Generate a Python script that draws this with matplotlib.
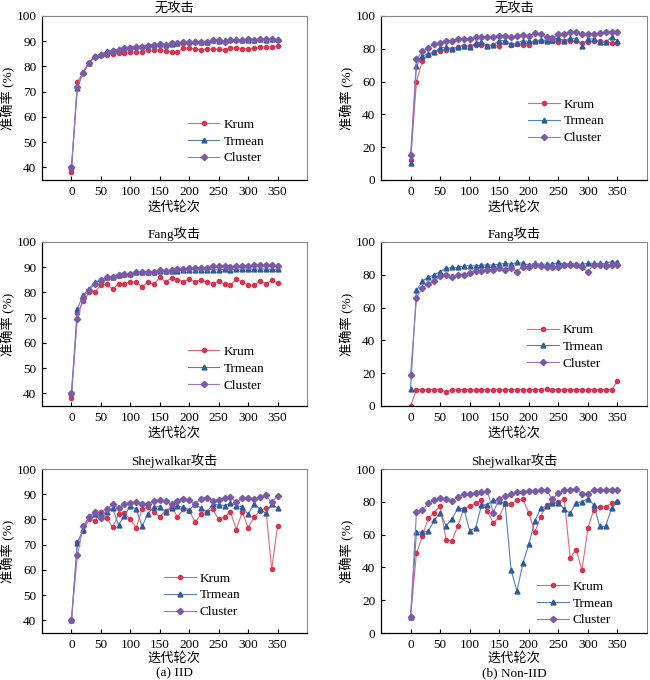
import matplotlib
matplotlib.use("Agg")
import matplotlib.pyplot as plt
import numpy as np

plt.rcParams['font.family'] = ['Liberation Serif', 'Noto Sans CJK SC']
plt.rcParams['font.size'] = 9

rounds = np.arange(0, 360, 10)

# IID, no attack
iid_none_krum = [38, 74, 77.5, 81.5, 84, 84.5, 84.5, 85, 85.3, 85.5, 85.8, 85.6, 85.8, 86.5, 86.4, 86.5, 86, 85.8,
                 85.8, 87.2, 87.2, 87, 86.5, 87, 86.8, 86.8, 86.5, 87.3, 87.5, 87, 87, 87.2, 87.8, 87.8, 87.8, 88.2]
iid_none_trmean = [40, 71.5, 78, 81.5, 84, 84.8, 86, 86.5, 86.8, 87.5, 87.8, 88, 88.3, 88.5, 88.7, 89, 88.7, 89,
                   89.3, 89.5, 89.8, 90, 89.7, 89.8, 90.3, 90.2, 90.3, 90.8, 90.7, 90.5, 90.5, 90.3, 90.7, 90.6, 90.8, 90.8]
iid_none_cluster = [40, 72, 77.5, 81.5, 83.8, 84.5, 85.5, 86.3, 86.7, 87.3, 87.3, 87.8, 87.8, 88.3, 88.5, 88.8, 88.5, 89.2,
                    89.3, 89.5, 89.7, 89.7, 89.8, 89.8, 90.3, 90.3, 89.5, 90.5, 90.5, 90.5, 90.7, 90.5, 90.8, 90.7, 90.7, 90.3]

# Non-IID, no attack
niid_none_krum = [12, 60, 72.5, 76.5, 78, 78.5, 79.5, 80, 81, 82, 81.5, 82.5, 82.5, 81.5, 82.5, 81.5, 84, 82.5,
                  83, 82.5, 82.5, 84.5, 84.5, 84.5, 85, 84, 84.5, 85, 84.5, 83.5, 84, 85, 84.5, 84, 83.5, 83.8]
niid_none_trmean = [10.5, 69.5, 75.5, 77, 78, 80.5, 81, 80, 81, 82, 81, 83.5, 84, 82, 82.5, 85, 85, 83,
                    83.5, 85, 84.5, 84.5, 85.5, 85, 85.5, 86.5, 85, 86.5, 86, 82, 86, 86, 84, 84, 87, 85]
niid_none_cluster = [15, 73.5, 78.5, 80.5, 83, 83.5, 84.5, 85, 86, 86, 86, 87, 87, 87.5, 87, 88, 88, 87,
                     88, 88.5, 88, 89.5, 89, 87, 86.5, 89, 89, 90, 90, 89, 89, 89, 89.5, 90, 90.5, 90]

# IID, Fang attack
iid_fang_krum = [38, 71.7, 76.5, 80, 80.2, 83, 83.3, 81.2, 83.5, 83.5, 84.2, 84, 82.3, 84.2, 83.2, 86, 84.2, 85.8,
                 85, 84.3, 85.2, 84.3, 85, 84, 83.5, 84.5, 83.3, 83, 85.2, 84.3, 82.8, 83, 84.5, 83.5, 84.8, 83.8]
iid_fang_trmean = [40, 73.5, 79, 81.5, 84, 85, 86, 86.3, 86.8, 87.3, 87.3, 88, 88, 88.3, 88.3, 88.5, 88.5, 88.7,
                   88.7, 88.8, 89, 89, 88.8, 89, 89, 89, 89.2, 89, 89.2, 89.3, 89.3, 89.3, 89.3, 89.3, 89.2, 89.3]
iid_fang_cluster = [40, 69.5, 78, 81, 83.5, 85, 86, 86.3, 87, 87.3, 87.5, 88, 88.3, 88.3, 88.2, 88.8, 88.7, 88.8,
                    89.2, 89.3, 89.5, 89.7, 89.8, 89.8, 90.3, 90.3, 90.5, 90.2, 90.5, 90.3, 90.5, 90.8, 90.8, 90.7, 90.8, 90.3]

# Non-IID, Fang attack
niid_fang_krum = [0, 10, 10, 10, 10, 10, 8.5, 10, 10, 10, 10, 10, 10, 10, 10, 10, 10, 10,
                  10, 10, 10, 10, 10, 10.5, 10, 10, 10, 10, 10, 10, 10, 10, 10, 10, 10, 15]
niid_fang_trmean = [10.5, 70.5, 76, 78.5, 80, 82, 84, 84.5, 84.5, 85.5, 85.5, 85.5, 86, 86, 86, 86.5, 87, 86.5,
                    87.5, 87, 86, 87, 86.5, 86.5, 86.5, 87.5, 86.5, 87, 86.5, 86.5, 87, 87, 87, 87, 88, 87.5]
niid_fang_cluster = [19, 66, 72, 74.5, 76, 79, 80, 78.5, 80, 80, 81, 82.5, 82.5, 83, 83, 84, 83, 84,
                     82, 85, 84.5, 86, 85.5, 85, 85, 85, 86, 86, 86, 84.5, 82, 86, 86, 85.5, 86, 86]

# IID, Shejwalkar attack
iid_shej_krum = [40, 71, 75.5, 80, 79.5, 83, 80.5, 77, 82, 82.5, 80, 76.8, 84, 85, 83, 81, 83.5, 85,
                 81, 84, 83.5, 79, 82, 83, 84, 80, 81, 83, 76, 83, 76.8, 80.8, 83.5, 84.5, 60.2, 77.5]
iid_shej_trmean = [40, 70.8, 76, 81.5, 82, 82, 83, 84.5, 77.8, 81.5, 85.5, 84, 77.3, 82.3, 85, 85, 83, 84.5,
                   85.3, 84.8, 83.8, 86, 84.5, 83, 86, 85.8, 85.5, 86.5, 85.5, 85, 82, 86.3, 84, 82.5, 86, 84.5]
iid_shej_cluster = [40, 65.8, 77.3, 81, 83, 80.5, 84, 86, 84.5, 86, 86.5, 86.8, 86, 86.3, 87.3, 87.8, 87.3, 86,
                    87.3, 88.2, 87.8, 86, 88.3, 88.7, 87.5, 87.8, 88.5, 88.8, 86.8, 88.5, 88.7, 88, 88.8, 89.5, 86.8, 89.2]

# Non-IID, Shejwalkar attack
niid_shej_krum = [10, 48.7, 59, 70, 73.4, 77.5, 56.9, 56, 65.4, 75.7, 77.3, 79.3, 80.8, 74.2, 67, 70.8, 79, 78.5,
                  80.9, 81.5, 73.4, 61.3, 70.9, 78.3, 79.3, 80, 81.5, 45.8, 50.9, 38.4, 64, 75.3, 76.7, 77.1, 79, 80]
niid_shej_trmean = [10, 61.5, 61.5, 62, 68.7, 73.4, 65.4, 69.5, 76, 75.9, 62.4, 64, 78, 78.3, 81, 80.2, 79, 38.4,
                    25.6, 42.5, 54, 68, 76, 77.5, 79, 79.5, 75.5, 73, 79.5, 80, 82, 78, 65, 65, 76, 80.5]
niid_shej_cluster = [10, 73.8, 75, 79, 81, 82.4, 82, 80.4, 83, 84.9, 84.7, 85.3, 85.9, 86.5, 73.4, 82, 83.6, 84.5,
                     86, 86, 86.5, 86.5, 87, 87, 81.5, 85.5, 87, 87.5, 88, 84.5, 85, 87.5, 87.5, 87, 87.5, 87.5]

titles = ['无攻击', '无攻击', 'Fang攻击', 'Fang攻击', 'Shejwalkar攻击', 'Shejwalkar攻击']
panels = [
    (iid_none_krum, iid_none_trmean, iid_none_cluster),
    (niid_none_krum, niid_none_trmean, niid_none_cluster),
    (iid_fang_krum, iid_fang_trmean, iid_fang_cluster),
    (niid_fang_krum, niid_fang_trmean, niid_fang_cluster),
    (iid_shej_krum, iid_shej_trmean, iid_shej_cluster),
    (niid_shej_krum, niid_shej_trmean, niid_shej_cluster),
]
legend_pos = [(0.55, 0.095), (0.553, 0.218), (0.55, 0.088), (0.55, 0.22), (0.46, 0.09), (0.587, 0.04)]

W, H = 650, 680
fig = plt.figure(figsize=(6.5, 6.8), dpi=100)

col_left = [42, 381]
col_w = [265, 266]
row_top = [16, 242, 469]
row_h = 164

# line colour is a lighter tint of the marker colour
styles = [
    dict(label='Krum', line='#e6677a', color='#d8344f', marker='o', ms=3.0),
    dict(label='Trmean', line='#5a7dbd', color='#2f5a9e', marker='^', ms=3.5),
    dict(label='Cluster', line='#9579c0', color='#7a5aa8', marker='D', ms=3.2),
]

for i, series in enumerate(panels):
    r, c = divmod(i, 2)
    ax = fig.add_axes([col_left[c] / W, 1 - (row_top[r] + row_h) / H, col_w[c] / W, row_h / H])
    for s, st in zip(series, styles):
        ax.plot(rounds, s, '-', lw=0.8, color=st['line'], marker=st['marker'], ms=st['ms'],
                mec=st['color'], mfc=st['color'], label=st['label'])
    ax.set_xlim(-50, 400)
    ax.set_xticks(range(0, 351, 50))
    if c == 0:
        ax.set_ylim(35, 100)
        ax.set_yticks(range(40, 101, 10))
    else:
        ax.set_ylim(0, 100)
        ax.set_yticks(range(0, 101, 20))
    ax.tick_params(direction='in', length=3, width=0.8, labelsize=9.5, pad=4)
    for side in ['top', 'right']:
        ax.spines[side].set_color('#888888')
        ax.spines[side].set_linewidth(0.8)
    for side in ['left', 'bottom']:
        ax.spines[side].set_linewidth(0.9)
    ax.set_title(titles[i], fontsize=9.5, pad=3)
    ax.set_xlabel('迭代轮次', fontsize=9.5, labelpad=1.5 if r == 2 else 2.5)
    ax.set_ylabel('准确率 (%)', fontsize=9.5, labelpad=1)
    ax.legend(loc='lower left', bbox_to_anchor=legend_pos[i], frameon=False, numpoints=1,
              handlelength=2.4, handletextpad=0.3, labelspacing=0.35, borderpad=0,
              borderaxespad=0, fontsize=9.5)

fig.text((col_left[0] + col_w[0] / 2) / W, 1 - 673 / H, '(a) IID', ha='center', va='center', fontsize=9.5)
fig.text((col_left[1] + col_w[1] / 2) / W, 1 - 673 / H, '(b) Non-IID', ha='center', va='center', fontsize=9.5)

fig.savefig('out.png', dpi=100)
